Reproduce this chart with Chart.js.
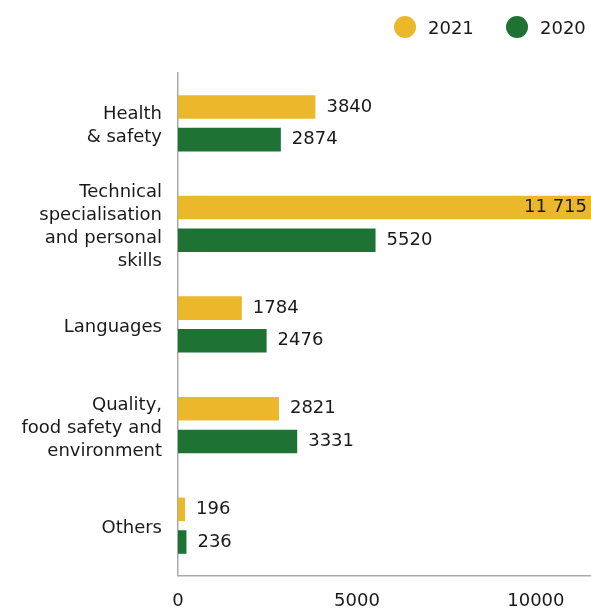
<!DOCTYPE html>
<html>
<head>
<meta charset="utf-8">
<script src="https://cdn.jsdelivr.net/npm/chart.js@4/dist/chart.umd.min.js"></script>
<style>
    body { margin: 0; background: #fff; }
    #wrap { position: relative; width: 591px; height: 615px; }
    .legend-item { position: absolute; top: 16px; display: flex; align-items: center; font: 18px "DejaVu Sans", sans-serif; color: #1a1a1a; }
    .legend-item .dot { width: 22px; height: 22px; border-radius: 50%; margin-right: 12px; }
</style>
</head>
<body>
<div id="wrap">
    <canvas id="grafico"></canvas>
    <div class="legend-item" style="left:394px"><span class="dot" style="background:#ebb72b"></span>2021</div>
    <div class="legend-item" style="left:506px"><span class="dot" style="background:#1e7334"></span>2020</div>
</div>
<script>
// Dados do gráfico
const categorias = [
    ['Health', '& safety'],
    ['Technical', 'specialisation', 'and personal', 'skills'],
    'Languages',
    ['Quality,', 'food safety and', 'environment'],
    'Others'
];
const valores2021 = [3840, 11715, 1784, 2821, 196];
const valores2020 = [2874, 5520, 2476, 3331, 236];
const ticksX = [0, 5000, 10000];

const AMARELO = '#ebb72b';
const VERDE = '#1e7334';
const FONTE = '"DejaVu Sans", sans-serif';

// Formata com espaço como separador de milhar (só a partir de 10 000)
const formatValue = (v) => v >= 10000 ? v.toLocaleString('en-US').replace(',', ' ') : String(v);

// Plugin para escrever os valores ao lado das barras
const rotulos = {
    id: 'rotulos',
    afterDatasetsDraw(chart) {
        const { ctx, chartArea } = chart;
        ctx.save();
        ctx.font = '18px ' + FONTE;
        ctx.fillStyle = '#1a1a1a';
        ctx.textBaseline = 'middle';
        chart.data.datasets.forEach((ds, i) => {
            chart.getDatasetMeta(i).data.forEach((bar, j) => {
                const txt = formatValue(ds.data[j]);
                const w = ctx.measureText(txt).width;
                if (bar.x + 11 + w > chartArea.right) {
                    // não cabe: escreve dentro da barra, encostado à direita
                    ctx.textAlign = 'right';
                    ctx.fillText(txt, chartArea.right - 4, bar.y);
                } else {
                    ctx.textAlign = 'left';
                    ctx.fillText(txt, bar.x + 11, bar.y);
                }
            });
        });
        ctx.restore();
    }
};

new Chart(document.getElementById('grafico'), {
    type: 'bar',
    data: {
        labels: categorias,
        datasets: [
            { label: '2021', data: valores2021, backgroundColor: AMARELO },
            { label: '2020', data: valores2020, backgroundColor: VERDE }
        ]
    },
    options: {
        indexAxis: 'y',
        responsive: true,
        maintainAspectRatio: false,
        animation: false,
        categoryPercentage: 0.65,
        barPercentage: 0.72,
        layout: { padding: { top: 73, right: 0, bottom: 0, left: 0 } },
        plugins: {
            legend: { display: false },
            tooltip: { enabled: false }
        },
        scales: {
            x: {
                min: 0,
                max: 11540,
                grid: { display: false, drawTicks: false },
                border: { display: true, color: '#aaaaaa', width: 1.5 },
                afterBuildTicks: (s) => { s.ticks = ticksX.map(v => ({ value: v })); },
                afterFit: (s) => { s.height = 38; },
                ticks: {
                    padding: 15,
                    color: '#1a1a1a',
                    font: { family: FONTE, size: 18 },
                    callback: (v) => String(v)
                }
            },
            y: {
                grid: { display: false, drawTicks: false },
                border: { display: true, color: '#aaaaaa', width: 1.5 },
                afterFit: (s) => { s.width = 178; },
                ticks: {
                    padding: 16,
                    labelOffset: 3,
                    color: '#1a1a1a',
                    font: { family: FONTE, size: 18, lineHeight: 1.28 }
                }
            }
        }
    },
    plugins: [rotulos]
});
</script>
</body>
</html>
